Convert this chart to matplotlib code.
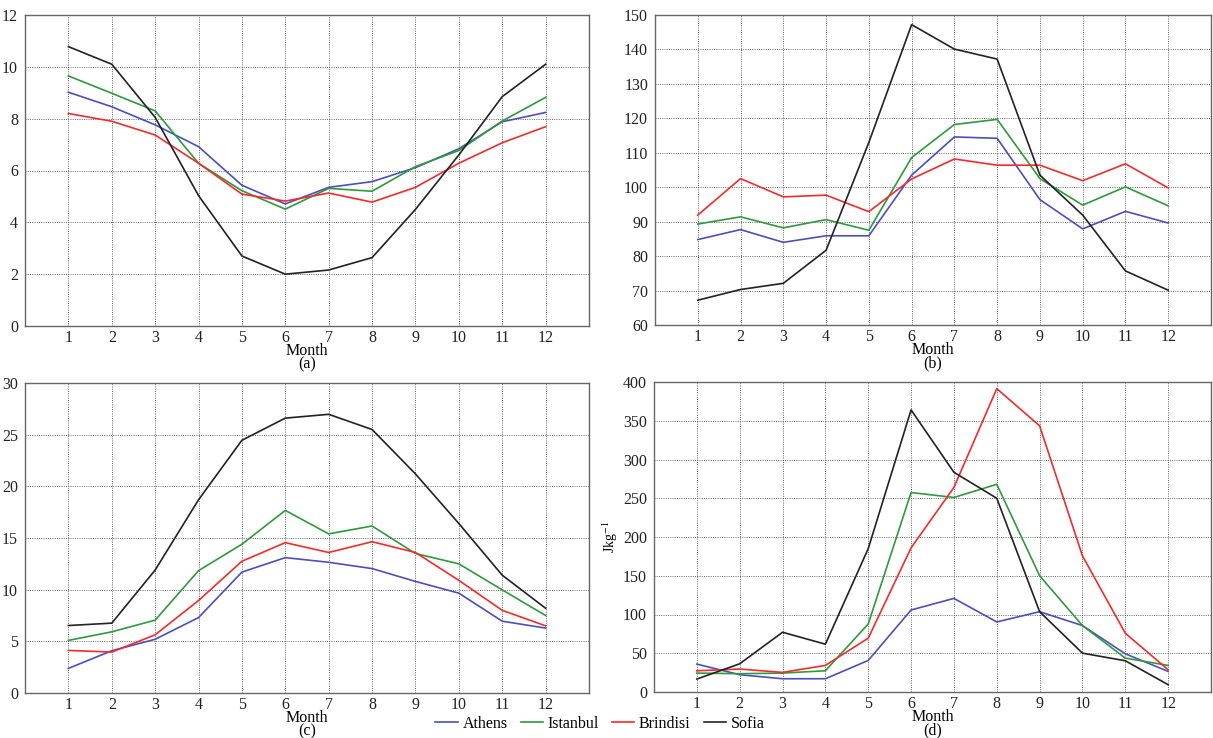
import matplotlib
matplotlib.use("Agg")
import matplotlib.pyplot as plt

plt.rcParams['font.family'] = ['Liberation Serif', 'DejaVu Serif']
plt.rcParams['mathtext.fontset'] = 'stix'

months = list(range(1, 13))
cities = ['Athens', 'Istanbul', 'Brindisi', 'Sofia']
colors = ['#4a4fbf', '#2e9a3c', '#f52a2a', '#222222']

# (a)
a_athens = [9.02, 8.46, 7.76, 6.92, 5.43, 4.71, 5.35, 5.57, 6.11, 6.84, 7.88, 8.24]
a_istanbul = [9.65, 8.98, 8.30, 6.28, 5.22, 4.51, 5.31, 5.20, 6.15, 6.77, 7.91, 8.82]
a_brindisi = [8.20, 7.90, 7.37, 6.28, 5.09, 4.82, 5.13, 4.78, 5.35, 6.28, 7.07, 7.69]
a_sofia = [10.78, 10.10, 8.05, 5.03, 2.70, 2.00, 2.16, 2.64, 4.50, 6.60, 8.85, 10.10]

# (b)
b_athens = [84.8, 87.7, 84.0, 85.9, 85.9, 103.5, 114.6, 114.2, 96.4, 87.9, 93.0, 89.6]
b_istanbul = [89.3, 91.4, 88.2, 90.6, 87.5, 108.6, 118.2, 119.7, 102.5, 94.8, 100.1, 94.6]
b_brindisi = [91.9, 102.5, 97.2, 97.7, 92.9, 102.4, 108.2, 106.4, 106.4, 101.9, 106.8, 99.8]
b_sofia = [67.2, 70.3, 72.1, 81.7, 113.0, 147.2, 140.1, 137.2, 103.5, 91.9, 75.7, 70.1]

# (c)
c_athens = [2.38, 4.09, 5.20, 7.30, 11.70, 13.10, 12.65, 12.04, 10.80, 9.66, 6.95, 6.28]
c_istanbul = [5.09, 5.92, 7.05, 11.84, 14.40, 17.67, 15.40, 16.16, 13.50, 12.50, 9.98, 7.50]
c_brindisi = [4.12, 3.96, 5.63, 8.95, 12.75, 14.55, 13.60, 14.64, 13.60, 10.90, 8.00, 6.50]
c_sofia = [6.53, 6.76, 11.90, 18.70, 24.46, 26.60, 26.97, 25.50, 21.20, 16.40, 11.40, 8.20]

# (d)
d_athens = [36.0, 22.3, 17.1, 17.1, 40.7, 105.8, 120.8, 90.4, 103.6, 85.7, 49.3, 26.6]
d_istanbul = [24.4, 23.6, 24.4, 27.4, 87.8, 257.4, 251.0, 268.0, 150.0, 85.7, 43.7, 34.3]
d_brindisi = [27.4, 29.6, 25.3, 34.3, 69.4, 186.0, 264.0, 391.4, 343.5, 175.6, 75.8, 28.7]
d_sofia = [16.7, 36.4, 77.1, 61.7, 185.0, 364.0, 283.5, 250.0, 103.6, 50.1, 40.3, 9.4]

panels = [
    ('(a)', [a_athens, a_istanbul, a_brindisi, a_sofia], (0, 12), 2, None),
    ('(b)', [b_athens, b_istanbul, b_brindisi, b_sofia], (60, 150), 10, None),
    ('(c)', [c_athens, c_istanbul, c_brindisi, c_sofia], (0, 30), 5, None),
    ('(d)', [d_athens, d_istanbul, d_brindisi, d_sofia], (0, 400), 50, 'Jkg$^{-1}$'),
]

W, H = 1213, 738
boxes = [(25, 15, 589, 326), (655, 15, 1211, 325),
         (25, 383, 589, 693), (654, 382, 1211, 692)]

fig = plt.figure(figsize=(W / 100, H / 100), dpi=100)

for (tag, series, ylim, step, ylab), (x0, y0, x1, y1) in zip(panels, boxes):
    ax = fig.add_axes([x0 / W, 1 - y1 / H, (x1 - x0) / W, (y1 - y0) / H])
    for vals, col, name in zip(series, colors, cities):
        ax.plot(months, vals, color=col, lw=1.2, label=name)
    ax.set_xlim(0, 13)
    ax.set_ylim(*ylim)
    ax.set_xticks(months)
    ax.set_yticks(range(ylim[0], ylim[1] + 1, step))
    ax.grid(True, color='#555555', linestyle=(0, (1.2, 1.5)), lw=0.6)
    ax.tick_params(length=0, labelsize=11.5, colors='#222222')
    ax.tick_params(axis='x', pad=3)
    ax.tick_params(axis='y', pad=5)
    for s in ax.spines.values():
        s.set_color('#666666')
        s.set_linewidth(1.0)
    ax.set_xlabel('Month\n' + tag, fontsize=11.5, labelpad=-2, linespacing=0.78)
    if ylab:
        ax.set_ylabel(ylab, fontsize=10, labelpad=2)

handles, labels = ax.get_legend_handles_labels()
fig.legend(handles, labels, loc='center', bbox_to_anchor=(600 / W, 1 - 724 / H),
           ncol=4, frameon=False, fontsize=11.5, handlelength=1.4,
           handletextpad=0.3, columnspacing=0.8)

fig.savefig('out.png', dpi=100)
